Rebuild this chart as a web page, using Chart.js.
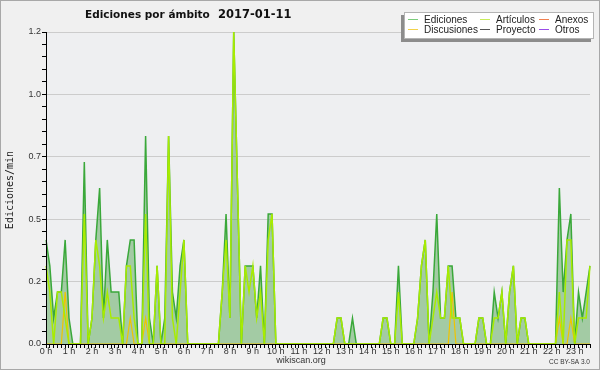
<!DOCTYPE html>
<html>
<head>
<meta charset="utf-8">
<title>Ediciones por ámbito 2017-01-11</title>
<script src="https://cdn.jsdelivr.net/npm/chart.js@4.4.1/dist/chart.umd.min.js"></script>
<style>
  html, body { margin: 0; padding: 0; background: #f0f0f0; }
  canvas { display: block; }
</style>
</head>
<body>
<canvas id="chart" width="600" height="370"></canvas>
<script>
// edits per minute, one value per time slot (6 slots per hour label)
const hourLabels = [
  "0 h", "1 h", "2 h", "3 h", "4 h", "5 h", "6 h", "7 h", "8 h", "9 h", "10 h", "11 h",
  "12 h", "13 h", "14 h", "15 h", "16 h", "17 h", "18 h", "19 h", "20 h", "21 h", "22 h", "23 h",
];

const ediciones = [
  0.417, 0.313, 0.104, 0.208, 0.208, 0.417,
  0.104, 0, 0, 0, 0.729, 0,
  0.104, 0.417, 0.625, 0.104, 0.417, 0.208,
  0.208, 0.208, 0, 0.313, 0.417, 0.417,
  0, 0, 0.833, 0.104, 0, 0.313,
  0, 0.104, 0.833, 0.208, 0.104, 0.313,
  0.417, 0, 0, 0, 0, 0,
  0, 0, 0, 0, 0.208, 0.521,
  0.104, 1.25, 0.625, 0, 0.313, 0.313,
  0.313, 0.104, 0.313, 0, 0.521, 0.521,
  0, 0, 0, 0, 0, 0,
  0, 0, 0, 0, 0, 0,
  0, 0, 0, 0, 0.104, 0.104,
  0, 0, 0.104, 0, 0, 0,
  0, 0, 0, 0, 0.104, 0.104,
  0, 0, 0.313, 0, 0, 0,
  0, 0.104, 0.313, 0.417, 0, 0.208,
  0.521, 0.104, 0.104, 0.313, 0.313, 0.104,
  0.104, 0, 0, 0, 0, 0.104,
  0.104, 0, 0, 0.208, 0.104, 0.208,
  0, 0.208, 0.313, 0, 0.104, 0.104,
  0, 0, 0, 0, 0, 0,
  0, 0, 0.625, 0.208, 0.417, 0.521,
  0, 0.208, 0.104, 0.208, 0.313,
];

const articulos = [
  0.313, 0.208, 0, 0.208, 0.208, 0.104,
  0, 0, 0, 0, 0.521, 0,
  0.104, 0.417, 0.313, 0.104, 0.208, 0.104,
  0.104, 0.104, 0, 0.313, 0.313, 0.104,
  0, 0, 0.521, 0, 0, 0.313,
  0, 0, 0.833, 0.104, 0, 0.208,
  0.417, 0, 0, 0, 0, 0,
  0, 0, 0, 0, 0.208, 0.417,
  0.104, 1.25, 0.625, 0, 0.313, 0.208,
  0.313, 0.104, 0.208, 0, 0.417, 0.521,
  0, 0, 0, 0, 0, 0,
  0, 0, 0, 0, 0, 0,
  0, 0, 0, 0, 0.104, 0.104,
  0, 0, 0, 0, 0, 0,
  0, 0, 0, 0, 0.104, 0.104,
  0, 0, 0.208, 0, 0, 0,
  0, 0.104, 0.313, 0.417, 0, 0.104,
  0.208, 0.104, 0.104, 0.313, 0.104, 0.104,
  0.104, 0, 0, 0, 0, 0.104,
  0.104, 0, 0, 0.104, 0.104, 0.208,
  0, 0.208, 0.313, 0, 0.104, 0.104,
  0, 0, 0, 0, 0, 0,
  0, 0, 0.208, 0, 0.417, 0.417,
  0, 0.104, 0.104, 0.104, 0.313,
];

const discusiones = [
  0, 0, 0, 0, 0, 0.208,
  0, 0, 0, 0, 0, 0,
  0, 0, 0, 0, 0, 0,
  0, 0, 0, 0, 0.104, 0,
  0, 0, 0.104, 0, 0, 0,
  0, 0, 0, 0, 0, 0,
  0, 0, 0, 0, 0, 0,
  0, 0, 0, 0, 0, 0,
  0, 0, 0, 0, 0, 0,
  0, 0, 0, 0, 0, 0,
  0, 0, 0, 0, 0, 0,
  0, 0, 0, 0, 0, 0,
  0, 0, 0, 0, 0, 0,
  0, 0, 0, 0, 0, 0,
  0, 0, 0, 0, 0, 0,
  0, 0, 0, 0, 0, 0,
  0, 0, 0, 0, 0, 0,
  0, 0, 0, 0, 0.208, 0,
  0, 0, 0, 0, 0, 0,
  0, 0, 0, 0, 0, 0,
  0, 0, 0, 0, 0, 0,
  0, 0, 0, 0, 0, 0,
  0, 0, 0.104, 0, 0, 0.104,
  0, 0, 0, 0, 0,
];

// time slots as categories
const slots = [];
for (let i = 0; i < ediciones.length; i++) {
  slots.push(String(Math.floor(i / 6)).padStart(2, "0") + ":" + (i % 6) + "0");
}

// legend layout: [label, colour, column, row]
const legendItems = [
  ["Ediciones", "#7ccc7c", 0, 0],
  ["Discusiones", "#f2d24a", 0, 1],
  ["Artículos", "#c8ec5a", 1, 0],
  ["Proyecto", "#555555", 1, 1],
  ["Anexos", "#f08050", 2, 0],
  ["Otros", "#9a4de8", 2, 1],
];

function isMajor(v) {
  return Math.round(v * 100) % 25 === 0;
}

function yLabel(v) {
  const r = Math.round(v * 20) / 20;
  return (Math.floor(r * 10 + 1e-6) / 10).toFixed(1);
}

const decor = {
  id: "decor",
  beforeDraw(chart) {
    const { ctx, chartArea: a } = chart;
    ctx.save();
    ctx.fillStyle = "#f0f0f0";
    ctx.fillRect(0, 0, chart.width, chart.height);
    ctx.fillStyle = "#eeeff1";
    ctx.fillRect(a.left, a.top, a.right - a.left, a.bottom - a.top);
    ctx.restore();
  },
  afterDatasetsDraw(chart) {
    const { ctx, chartArea: a } = chart;
    ctx.save();
    ctx.strokeStyle = "#000";
    ctx.lineWidth = 1;
    ctx.beginPath();
    ctx.moveTo(a.left + 0.5, a.top);
    ctx.lineTo(a.left + 0.5, a.bottom + 0.5);
    ctx.lineTo(a.right, a.bottom + 0.5);
    ctx.stroke();
    ctx.restore();
  },
  afterDraw(chart) {
    const ctx = chart.ctx;
    ctx.save();

    // title
    ctx.fillStyle = "#111";
    ctx.textBaseline = "alphabetic";
    ctx.font = "bold 10.5px 'DejaVu Sans'";
    ctx.fillText("Ediciones por ámbito", 85, 18);
    ctx.font = "bold 11.5px 'DejaVu Sans'";
    ctx.fillText("2017-01-11", 218, 18);

    // y axis title
    ctx.save();
    ctx.translate(13, 190);
    ctx.rotate(-Math.PI / 2);
    ctx.textAlign = "center";
    ctx.font = "10px 'DejaVu Sans Mono'";
    ctx.fillStyle = "#222";
    ctx.fillText("Ediciones/min", 0, 0);
    ctx.restore();

    // legend box
    ctx.fillStyle = "#8c8c8c";
    ctx.fillRect(401, 15, 190, 27);
    ctx.fillStyle = "#fff";
    ctx.fillRect(404, 12, 190, 27);
    ctx.strokeStyle = "#b4b4b4";
    ctx.strokeRect(404.5, 12.5, 189, 26);

    const colX = [408, 480, 539];
    const rowY = [19, 29];
    ctx.font = "10px 'Liberation Sans'";
    ctx.lineWidth = 1;
    for (const [label, color, col, row] of legendItems) {
      const x = colX[col];
      const y = rowY[row];
      ctx.strokeStyle = color;
      ctx.beginPath();
      ctx.moveTo(x, y + 0.5);
      ctx.lineTo(x + 10, y + 0.5);
      ctx.stroke();
      ctx.fillStyle = "#222";
      ctx.fillText(label, x + 16, y + 4);
    }

    // footer
    ctx.fillStyle = "#333";
    ctx.textAlign = "center";
    ctx.font = "9px 'Liberation Sans'";
    ctx.fillText("wikiscan.org", 301, 363);
    ctx.textAlign = "left";
    ctx.font = "6.5px 'Liberation Sans'";
    ctx.fillText("CC BY-SA 3.0", 549, 364);

    // frame
    ctx.strokeStyle = "#a8a8a8";
    ctx.lineWidth = 1;
    ctx.strokeRect(0.5, 0.5, chart.width - 1, chart.height - 1);
    ctx.restore();
  },
};

new Chart(document.getElementById("chart"), {
  type: "line",
  data: {
    labels: slots,
    datasets: [
      {
        label: "Artículos",
        data: articulos,
        borderColor: "#a8ec00",
        borderWidth: 1.5,
        fill: false,
        order: 1,
      },
      {
        label: "Discusiones",
        data: discusiones,
        borderColor: "#f0c400",
        borderWidth: 1.2,
        fill: false,
        order: 2,
      },
      {
        label: "Ediciones",
        data: ediciones,
        borderColor: "#3aa83a",
        backgroundColor: "rgba(70,160,70,0.45)",
        borderWidth: 1.5,
        fill: "origin",
        order: 3,
      },
      { label: "Anexos", data: [], borderColor: "#f08050", order: 4 },
      { label: "Proyecto", data: [], borderColor: "#555555", order: 5 },
      { label: "Otros", data: [], borderColor: "#9a4de8", order: 6 },
    ],
  },
  options: {
    responsive: false,
    animation: false,
    layout: { padding: { top: 32, right: 10, bottom: 0, left: 0 } },
    elements: {
      point: { radius: 0 },
      line: { tension: 0, borderJoinStyle: "miter" },
    },
    plugins: {
      legend: { display: false },
      title: { display: false },
      tooltip: { enabled: false },
    },
    scales: {
      x: {
        offset: false,
        afterFit: (scale) => { scale.height = 26; },
        border: { display: false },
        grid: {
          drawOnChartArea: false,
          tickLength: 4,
          tickColor: "#000",
        },
        ticks: {
          autoSkip: false,
          maxRotation: 0,
          padding: -2,
          color: "#333",
          font: { family: "'Liberation Sans'", size: 9 },
          callback: (v, i) => (i % 6 === 0 ? hourLabels[i / 6] : ""),
        },
      },
      y: {
        min: 0,
        max: 1.25,
        afterFit: (scale) => { scale.width = 46; },
        border: { display: false },
        grid: {
          color: (c) => (c.tick && isMajor(c.tick.value) && c.tick.value > 0 ? "#cccccc" : "rgba(0,0,0,0)"),
          tickColor: "#000",
          tickLength: 4,
        },
        ticks: {
          stepSize: 0.05,
          autoSkip: false,
          padding: 1,
          color: "#333",
          font: { family: "'Liberation Sans'", size: 9 },
          callback: (v) => (isMajor(v) ? yLabel(v) : ""),
        },
      },
    },
  },
  plugins: [decor],
});
</script>
</body>
</html>
